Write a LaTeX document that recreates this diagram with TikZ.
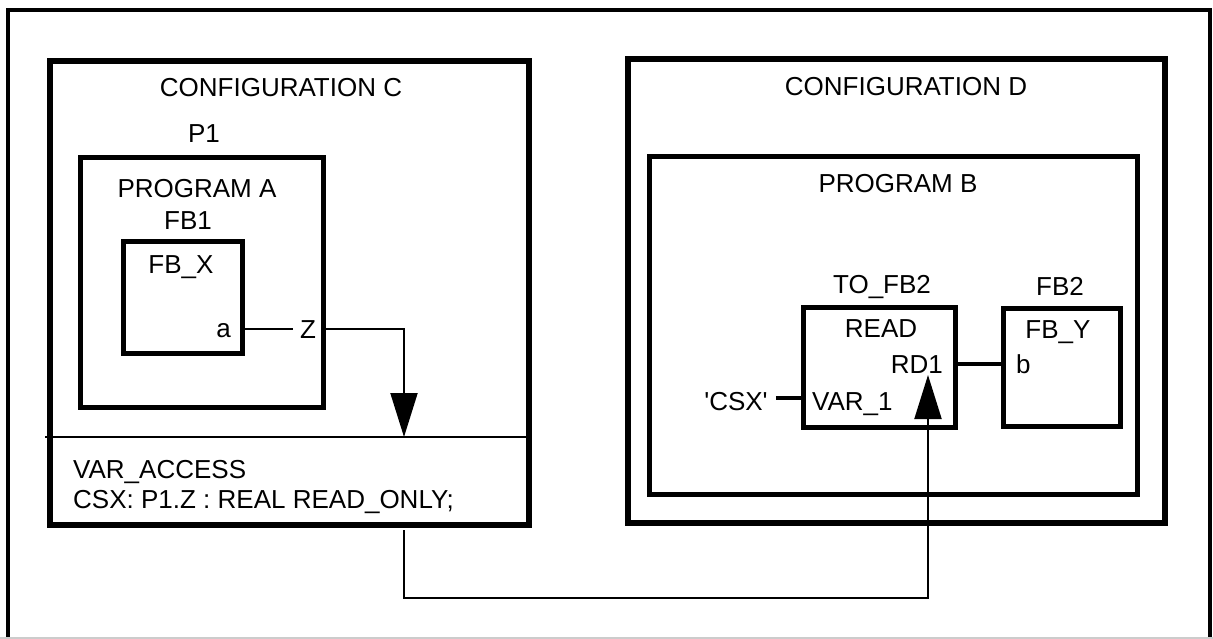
\documentclass[tikz,border=0pt]{standalone}
\usepackage{fontspec}
\setmainfont{Liberation Sans}[Ligatures=TeXOff]
\usetikzlibrary{arrows.meta}
\begin{document}
\begin{tikzpicture}[x=1pt,y=-1pt,
  lbl/.style={inner sep=0pt, font=\fontsize{26}{30}\selectfont},
  cfgbox/.style={draw, line width=5.5pt, inner sep=0pt},
  prgbox/.style={draw, line width=5pt, inner sep=0pt},
  fbbox/.style={draw, line width=5pt, inner sep=0pt},
  wire/.style={line width=2pt},
  bus/.style={line width=4.5pt},
  bigtip/.style={-{Triangle[length=44pt,width=27pt]}}]
\useasboundingbox (0,0) rectangle (1213,639);
% outer frame
\draw[line width=4.5pt] (8,638) -- (8,10) -- (1210,10) -- (1210,638);
\draw[black!20, line width=1.5pt] (0,638) -- (1213,638);
% boxes
\node[cfgbox, minimum width=479pt, minimum height=464pt] (cfgC) at (289.5,293) {};
\node[cfgbox, minimum width=537pt, minimum height=464pt] (cfgD) at (896.5,291) {};
\node[prgbox, minimum width=243pt, minimum height=249pt] (prgA) at (201.5,282.5) {};
\node[prgbox, minimum width=488pt, minimum height=337pt] (prgB) at (893,325.5) {};
\node[fbbox, minimum width=119pt, minimum height=111pt] (fbx) at (182.5,297.5) {};
\node[fbbox, minimum width=152pt, minimum height=120pt] (read) at (879,367) {};
\node[fbbox, minimum width=117pt, minimum height=118pt] (fby) at (1061.5,367) {};
% labels
\node[lbl, anchor=base] (tC) at (281,97) {CONFIGURATION C};
\node[lbl, anchor=base] (tD) at (906,96) {CONFIGURATION D};
\node[lbl, anchor=base] (tP1) at (204,143) {P1};
\node[lbl, anchor=base] (tPA) at (197,198) {PROGRAM A};
\node[lbl, anchor=base] (tFB1) at (188,230) {FB1};
\node[lbl, anchor=base] (tFBX) at (181,273) {FB\_X};
\node[lbl, anchor=base east] (ta) at (231,337) {a};
\node[lbl, anchor=base] (z) at (308,338) {Z};
\node[lbl, anchor=base] (tPB) at (898,193) {PROGRAM B};
\node[lbl, anchor=base] (tTO) at (882,293) {TO\_FB2};
\node[lbl, anchor=base] (tREAD) at (881,337) {READ};
\node[lbl, anchor=base east] (rd1) at (943,373) {RD1};
\node[lbl, anchor=base west] (var1) at (812,410) {VAR\_1};
\node[lbl, anchor=base] (csx) at (736,410) {'CSX'};
\node[lbl, anchor=base] (tFB2) at (1060,295) {FB2};
\node[lbl, anchor=base] (tFBY) at (1058,338) {FB\_Y};
\node[lbl, anchor=base west] (tb) at (1016,373) {b};
\node[lbl, anchor=base west] (va1) at (73,478) {VAR\_ACCESS};
\node[lbl, anchor=base west] (va2) at (73,508) {CSX: P1.Z : REAL READ\_ONLY;};
% connectors
\coordinate (zc) at (404,437);
\coordinate (tipR) at (928,375);
\draw[wire] ([xshift=-2pt]cfgC.west |- zc) -- (cfgC.east |- zc);
\draw[wire] (fbx.east |- z.west) -- ([xshift=-7pt]z.west);
\draw[wire, bigtip] ([xshift=10pt]z.east) -| (zc);
\draw[bus] ([xshift=8pt,yshift=3pt]csx.east) -- ([yshift=3pt]read.west |- csx.east);
\draw[bus] (read.east |- rd1) -- (fby.west |- rd1);
\draw[wire, bigtip] ([yshift=-2.5pt]cfgC.south -| zc) -- ++(0,68) -| (tipR);
\end{tikzpicture}
\end{document}
